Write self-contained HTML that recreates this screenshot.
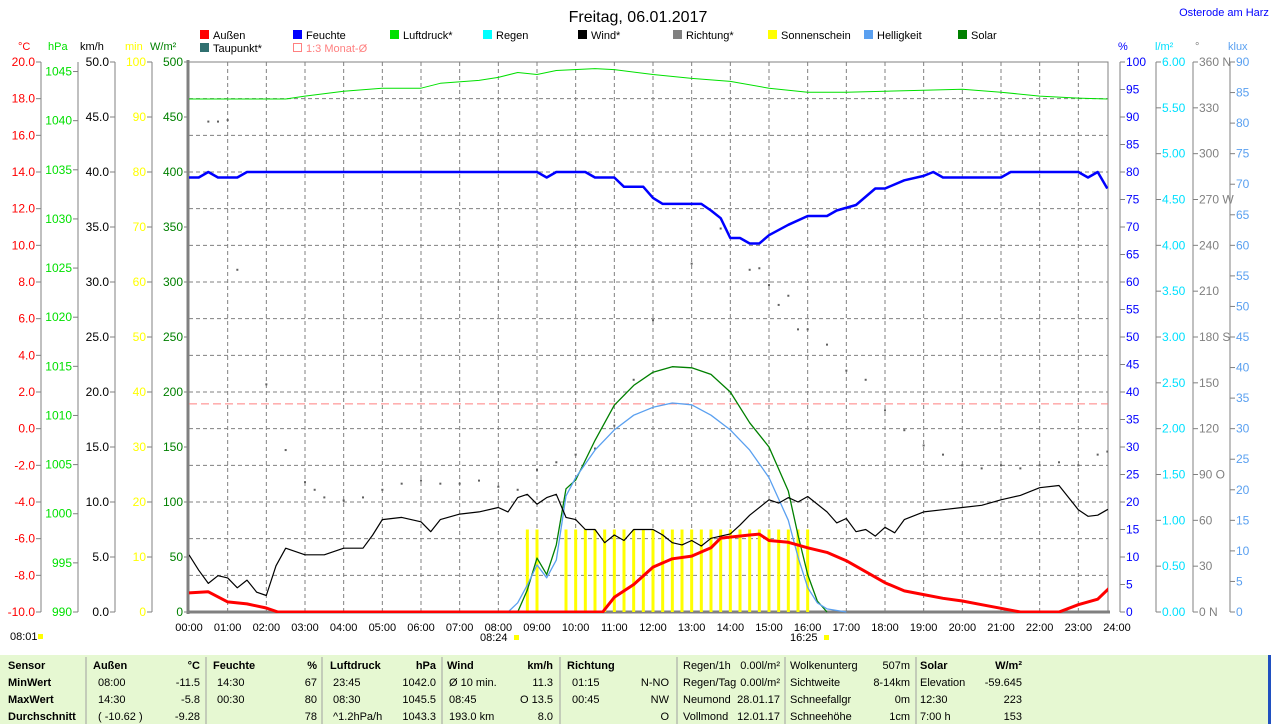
<!DOCTYPE html>
<html><head><meta charset="utf-8"><style>
html,body{margin:0;padding:0;background:#fff;}
svg{display:block;font-family:"Liberation Sans",sans-serif;}
</style></head><body>
<svg id="chart" width="1274" height="724" viewBox="0 0 1274 724" xmlns="http://www.w3.org/2000/svg">
<defs><clipPath id="plotclip"><rect x="189" y="60" width="919" height="553"/></clipPath></defs>
<text x="638" y="22" font-size="16" text-anchor="middle" fill="#000">Freitag, 06.01.2017</text>
<text x="1224" y="16" font-size="11" text-anchor="middle" fill="#0000ff">Osterode am Harz</text>
<g id="legend" font-size="11"></g>
<g id="grid"></g>
<g id="axes" font-size="11"></g>
<g id="series" clip-path="url(#plotclip)"></g>
<g id="table" font-size="11"></g>
</svg>
<script>
// ---- data ----
const hourLabels=["00:00","01:00","02:00","03:00","04:00","05:00","06:00","07:00","08:00","09:00","10:00","11:00","12:00","13:00","14:00","15:00","16:00","17:00","18:00","19:00","20:00","21:00","22:00","23:00","24:00"];
const humT=[0,0.25,0.5,0.75,1.25,1.5,9,9.25,9.5,10.25,10.5,11,11.25,11.75,12,12.25,13.25,13.5,13.75,14,14.25,14.5,14.75,15,15.5,16,16.5,16.75,17.25,17.75,18,18.5,19,19.25,19.5,21,21.25,23,23.25,23.5,23.75];
const humV=[79,79,80,79,79,80,80,79,80,80,79,79,77.3,77.3,75.3,74.2,74.2,73,71.6,68,68,67,67,68.5,70.4,72,72,73,74,77,77,78.5,79.3,80,79,79,80,80,79,80,77];
const presT=[0,2.5,3,4,5,6,6.5,7.5,8,8.5,9,9.5,10.5,11,12,13,14,15,16,17,18,19,20,21,22,23,23.75];
const presV=[1042.2,1042.2,1042.5,1043.0,1043.3,1043.3,1043.8,1044.1,1044.4,1044.9,1044.7,1045.1,1045.3,1045.2,1044.7,1044.3,1044.0,1043.3,1042.9,1042.9,1043.0,1043.1,1043.2,1042.9,1042.5,1042.3,1042.2];
const tempT=[0,0.5,1,1.5,2,2.3,10.7,11,11.5,12,12.5,13,13.5,13.75,14.5,14.75,15,15.5,16,16.5,17,17.5,18,18.5,19,19.5,20,20.5,21,21.5,22.5,23,23.5,23.75,24];
const tempV=[-8.96,-8.9,-9.45,-9.56,-9.78,-10,-10,-9.2,-8.5,-7.55,-7.1,-6.95,-6.5,-5.97,-5.8,-5.75,-6.1,-6.2,-6.5,-6.75,-7.2,-7.8,-8.4,-8.85,-9.05,-9.25,-9.4,-9.6,-9.8,-10,-10,-9.6,-9.3,-8.8,-8.25];
const windT=[0,0.25,0.5,0.75,1,1.25,1.5,1.75,2,2.25,2.5,3,3.5,4,4.5,4.75,5,5.5,6,6.25,6.5,7,7.5,8,8.25,8.5,8.75,9,9.25,9.5,9.75,10,10.25,10.5,10.75,11,11.25,11.5,12,12.25,12.5,12.75,13,13.25,13.5,14,14.25,14.5,15,15.25,15.5,15.75,16,16.5,16.75,17,17.25,17.5,17.75,18,18.25,18.5,19,19.5,20,20.5,21,21.5,22,22.5,23,23.25,23.5,23.75,24];
const windV=[5.2,3.8,2.6,3.3,3.1,2.2,2.9,1.8,1.5,4.2,5.8,5.2,5.2,5.8,5.8,7.0,8.4,8.6,8.2,7.3,8.4,8.9,9.1,9.5,9.1,10.4,10.7,9.8,10.4,10.7,8.6,8.4,7.5,7.5,6.3,7.0,6.5,7.5,7.5,7.0,6.3,6.1,6.5,6.0,6.7,7.1,7.9,8.8,10.2,9.9,10.4,10.0,10.5,9.1,8.1,8.5,7.3,7.5,6.9,7.7,7.2,8.4,9.1,9.3,9.5,9.7,10.2,10.6,11.3,11.5,9.3,8.7,8.8,9.3,9.7];
const dirT=[0.5,0.75,1,1.25,2,2.5,3,3.25,3.5,4,4.5,5,5.5,6,6.5,7,7.5,8,8.5,9,9.5,10,10.5,11,11.5,12,13,13.75,14.5,14.75,15,15.25,15.5,15.75,16,16.5,17,17.5,18,18.5,19,19.5,20,20.5,21,21.5,22,22.5,23,23.5,23.75];
const dirV=[321,321,322,224,149,106,85,80,75,73,75,80,84,86,84,84,86,82,80,93,98,103,107,122,152,191,228,251,224,225,214,201,207,185,185,175,158,152,132,119,109,103,96,94,96,94,96,98,96,103,105];
const solT=[8.5,8.75,9,9.25,9.5,9.75,10,10.5,11,11.5,12,12.5,13,13.5,14,14.5,15,15.5,15.75,16,16.25,16.5];
const solV=[0,20,49,34,61,112,120,156,188,206,218,223,222,216,200,172,150,110,70,34,10,0];
const luxT=[8.25,8.5,8.75,9,9.25,9.5,9.75,10,10.5,11,11.5,12,12.5,13,13.5,14,14.5,15,15.5,15.75,16,16.25,16.5,17];
const luxV=[0,1.5,4.4,7.7,5.6,8.5,19,22,26.5,29.8,32.2,33.5,34.2,33.9,32.2,29.8,26.5,22,15,9,4,1.5,0.5,0];
const sunT=[8.75,9,9.75,10,10.25,10.5,10.75,11,11.25,11.5,11.75,12,12.25,12.5,12.75,13,13.25,13.5,13.75,14,14.25,14.5,14.75,15,15.25,15.5,15.75,16];
const sunV=[15,15,15,15,15,15,15,15,15,15,15,15,15,15,15,15,15,15,15,15,15,15,15,15,15,15,15,15];
const avgTemp=[1.35];

// ---- scales ----
const X0=189,X1=1117,Y0=612,Y1=62;
const xs=h=>X0+(X1-X0)*h/24;
const lin=(a,b)=>v=>Y0-(v-a)/(b-a)*(Y0-Y1);
const yT=lin(-10,20), yP=lin(990,1045.97), yW=lin(0,50), yM=lin(0,100), yS=lin(0,500), yH=lin(0,100), yD=lin(0,360), yK=lin(0,90), yR=lin(0,6);

const NS="http://www.w3.org/2000/svg";
function mk(tag,attrs,parent,text){const e=document.createElementNS(NS,tag);for(const k in attrs)e.setAttribute(k,attrs[k]);if(text!==undefined)e.textContent=text;parent.appendChild(e);return e;}
const G=id=>document.getElementById(id);

// ---- legend ----
const legItems=[["Außen","#ff0000",200,38],["Feuchte","#0000ff",293,38],["Luftdruck*","#00e000",390,38],["Regen","#00ffff",483,38],["Wind*","#000000",578,38],["Richtung*","#808080",673,38],["Sonnenschein","#ffff00",768,38],["Helligkeit","#5aa0f0",864,38],["Solar","#008000",958,38],["Taupunkt*","#307070",200,51]];
legItems.forEach(it=>{
  const r=mk("rect",{x:it[2],y:it[3]-8,width:9,height:9,fill:it[1]},G("legend"));
  
  
  const t=mk("text",{x:it[2]+13,y:it[3]+1,fill:"#000"},G("legend"),it[0]);
  
  
});
{const r=mk("rect",{x:293.5,y:43.5,width:8,height:8,fill:"none",stroke:"#ff8080"},G("legend"));


const t=mk("text",{x:306,y:52,fill:"#ff8080"},G("legend"),"1:3 Monat-Ø");

}

// ---- grid ----
for(let h=1;h<24;h++){const l=mk("line",{x1:xs(h),x2:xs(h),y1:Y1,y2:Y0,stroke:"#808080","stroke-dasharray":"4,3"},G("grid"));

}
for(let v=-8;v<20;v+=2){const l=mk("line",{x1:189,x2:1108,y1:yT(v),y2:yT(v),stroke:"#808080","stroke-dasharray":"4,3"},G("grid"));

}
{const l=mk("rect",{x:188,y:62,width:920,height:550,fill:"none",stroke:"#808080","stroke-width":1},G("grid"));

}
{const l=mk("line",{x1:188,x2:188,y1:60,y2:614,stroke:"#808080","stroke-width":3},G("grid"));


const b=mk("line",{x1:188,x2:1110,y1:612,y2:612,stroke:"#808080","stroke-width":3},G("grid"));

}

// ---- axes ----
function axis(name,xLine,side,color,title,titleX,vals,yf,fmt,extra){
  const ax=G("axes");
  const l=mk("line",{x1:xLine,x2:xLine,y1:Y1,y2:Y0,stroke:"#808080","stroke-width":1},ax);
  
  
  const t=mk("text",{x:titleX,y:50,fill:color},ax,title);
  
  
  vals.forEach((v,i)=>{
    const y=yf(v);
    const tk=mk("line",{x1:xLine+(side<0?-5:0),x2:xLine+(side<0?0:5),y1:y,y2:y,stroke:"#808080"},ax);
    
    
    let s=fmt(v); if(extra&&extra[v])s+=extra[v];
    const lb=mk("text",{x:side<0?xLine-6:xLine+6,y:y+4,fill:color,"text-anchor":side<0?"end":"start","font-size":12},ax,s);
    
    
  });
}
const rng=(a,b,s)=>{const r=[];for(let v=a;v<=b+1e-9;v+=s)r.push(+v.toFixed(3));return r;};
axis("temp",41,-1,"#ff0000","°C",18,rng(-10,20,2),yT,v=>v.toFixed(1));
axis("pressure",78,-1,"#00e000","hPa",48,rng(990,1045,5),yP,v=>String(v));
axis("wind",115,-1,"#000000","km/h",80,rng(0,50,5),yW,v=>v.toFixed(1));
axis("sunshine",152,-1,"#ffff00","min",125,rng(0,100,10),yM,v=>String(v));
axis("solar",189,-1,"#008000","W/m²",150,rng(0,500,50),yS,v=>String(v));
axis("humidity",1120,1,"#0000ff","%",1118,rng(0,100,5),yH,v=>String(v));
axis("rain",1156,1,"#00e0ff","l/m²",1155,rng(0,6,0.5),yR,v=>v.toFixed(2));
axis("direction",1193,1,"#808080","°",1195,rng(0,360,30),yD,v=>String(v),{360:" N",270:" W",180:" S",90:" O",0:" N"});
axis("lux",1230,1,"#5aa0f0","klux",1228,rng(0,90,5),yK,v=>String(v));
hourLabels.forEach((s,i)=>{const t=mk("text",{x:xs(i),y:631,"text-anchor":"middle",fill:"#000"},G("axes"),s);

});
[["08:01",10,640,38],["08:24",480,641,514],["16:25",790,641,824]].forEach(a=>{
  const t=mk("text",{x:a[1],y:a[2],fill:"#000"},G("axes"),a[0]);
  
  
  const m=mk("rect",{x:a[3],y:a[2]-6,width:5,height:5,fill:"#ffff00"},G("axes"));
  
  
});

// ---- series ----
const S=G("series");
const pts=(T,V,yf)=>T.map((t,i)=>xs(t).toFixed(1)+","+yf(V[i]).toFixed(1)).join(" ");
sunT.forEach((t,i)=>{const r=mk("rect",{x:xs(t)-1.5,y:yM(sunV[i]),width:3,height:Y0-yM(sunV[i]),fill:"#ffff00"},S);

});
{const l=mk("line",{x1:189,x2:1108,y1:yT(avgTemp[0]),y2:yT(avgTemp[0]),stroke:"#ff8080","stroke-dasharray":"8,4"},S);

}
dirT.forEach((t,i)=>{const c=mk("rect",{x:xs(t)-1,y:yD(dirV[i])-1,width:2,height:2,fill:"#606060"},S);

});
function line(name,T,V,yf,col,w){const p=mk("polyline",{points:pts(T,V,yf),fill:"none",stroke:col,"stroke-width":w,"stroke-linejoin":"round"},S);

}
line("pressure-line",presT,presV,yP,"#00e000",1);
line("solar-line",solT,solV,yS,"#008000",1.3);
line("lux-line",luxT,luxV,yK,"#5aa0f0",1.3);
line("wind-line",windT,windV,yW,"#000000",1.2);
line("humidity-line",humT,humV,yH,"#0000ff",2.5);
line("temperature-line",tempT,tempV,yT,"#ff0000",3);

// ---- table ----
const TB=G("table");
{const r=mk("rect",{x:0,y:655,width:1268,height:69,fill:"#e6f8d2"},TB);


const e=mk("rect",{x:1268,y:655,width:3,height:69,fill:"#2050c0"},TB);

}
[86,206,322,442,560,677,785,916].forEach(x=>{const l=mk("line",{x1:x,x2:x,y1:657,y2:724,stroke:"#a0a0a0"},TB);

});
const rowsY=[669,686,703,720];
const cells=[
 [8,"start",1,["Sensor","MinWert","MaxWert","Durchschnitt"]],
 [93,"start",1,["Außen"]],[200,"end",1,["°C"]],
 [98,"start",0,["","08:00","14:30","( -10.62 )"]],[200,"end",0,["","-11.5","-5.8","-9.28"]],
 [213,"start",1,["Feuchte"]],[317,"end",1,["%"]],
 [217,"start",0,["","14:30","00:30",""]],[317,"end",0,["","67","80","78"]],
 [330,"start",1,["Luftdruck"]],[436,"end",1,["hPa"]],
 [333,"start",0,["","  23:45","  08:30","^1.2hPa/h"]],[436,"end",0,["","1042.0","1045.5","1043.3"]],
 [447,"start",1,["Wind"]],[553,"end",1,["km/h"]],
 [449,"start",0,["","Ø 10 min.","  08:45","  193.0 km"]],[553,"end",0,["","11.3","O 13.5","8.0"]],
 [567,"start",1,["Richtung"]],
 [572,"start",0,["","01:15","00:45",""]],[669,"end",0,["","N-NO","NW","O"]],
 [683,"start",0,["Regen/1h","Regen/Tag","Neumond","Vollmond"]],[780,"end",0,["0.00l/m²","0.00l/m²","28.01.17","12.01.17"]],
 [790,"start",0,["Wolkenunterg","Sichtweite","Schneefallgr","Schneehöhe"]],[910,"end",0,["507m","8-14km","0m","1cm"]],
 [920,"start",1,["Solar"]],[1022,"end",1,["W/m²"]],
 [920,"start",0,["","Elevation","  12:30","7:00 h"]],[1022,"end",0,["","-59.645","223","153"]]
];
cells.forEach(c=>{c[3].forEach((s,i)=>{if(!s)return;
  const bold=c[2]||(c[0]===8);
  const t=mk("text",{x:c[0],y:rowsY[i],"text-anchor":c[1],"font-weight":bold?"bold":"normal",fill:"#000","xml:space":"preserve"},TB,s);
  
  
});});
</script>
</body></html>
